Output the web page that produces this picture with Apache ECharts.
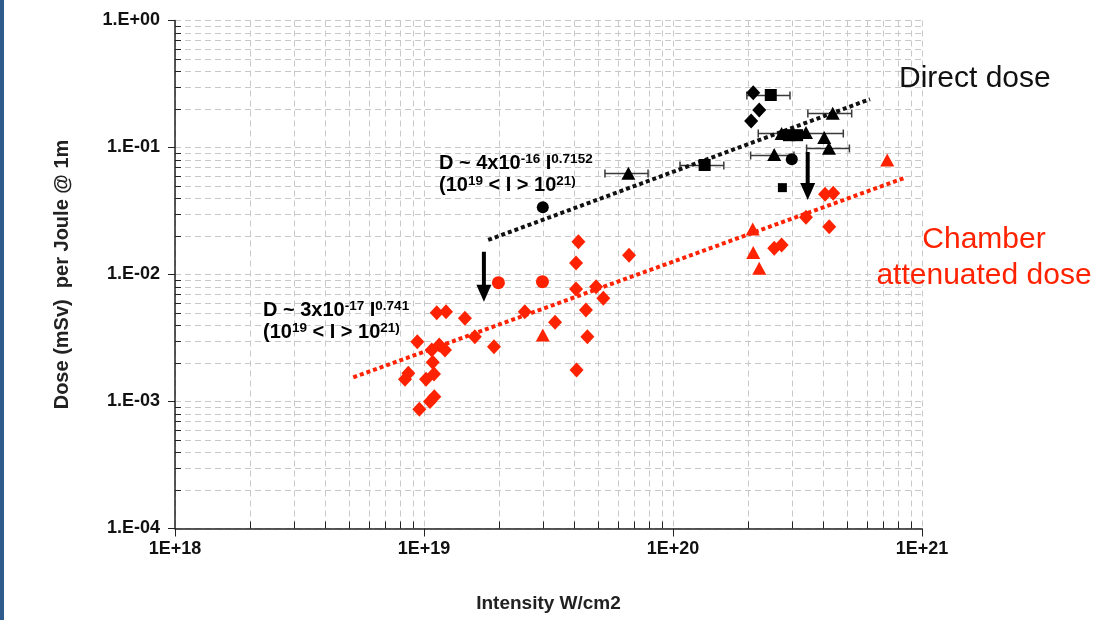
<!DOCTYPE html>
<html>
<head>
<meta charset="utf-8">
<title>Dose per Joule vs Intensity</title>
<script src="https://cdn.jsdelivr.net/npm/echarts@6/dist/echarts.min.js"></script>
<style>
    html, body { margin: 0; padding: 0; background: #fff; }
    #main { width: 1105px; height: 620px; }
</style>
</head>
<body>
<div id="main"></div>
<script>
// points: [intensity W/cm2, dose mSv per J]
var blackDiamond = [[2.10e20, 0.270], [2.22e20, 0.197], [2.06e20, 0.162]];
var blackSquare = [[2.47e20, 0.259], [1.34e20, 0.0728], [2.92e20, 0.125], [3.15e20, 0.125]];
var blackSquareSmall = [[2.75e20, 0.0483]];
var blackTriangle = [[6.62e19, 0.0626], [2.73e20, 0.129], [3.42e20, 0.131], [4.05e20, 0.120],
    [4.23e20, 0.0986], [2.55e20, 0.088], [4.38e20, 0.186]];
var blackCircle = [[3.0e19, 0.0338], [3.0e20, 0.0807]];
// horizontal error bars: [dose, intensity low, intensity high]
var errorBars = [[0.259, 1.98e20, 2.95e20], [0.0728, 1.067e20, 1.60e20], [0.186, 3.48e20, 5.22e20],
    [0.130, 2.20e20, 4.83e20], [0.0986, 3.44e20, 5.11e20], [0.088, 2.05e20, 3.06e20],
    [0.0626, 5.33e19, 7.94e19]];

var redDiamond = [[1.125e19, 0.00500], [1.226e19, 0.00510], [1.46e19, 0.00452], [9.40e18, 0.00296],
    [1.152e19, 0.00279], [1.214e19, 0.00254], [1.074e19, 0.00254], [1.084e19, 0.00204],
    [8.65e18, 0.00167], [8.39e18, 0.00150], [1.097e19, 0.00165], [1.019e19, 0.00150],
    [1.10e19, 0.00109], [1.057e19, 0.00100], [9.58e18, 0.00087], [1.91e19, 0.00270],
    [1.60e19, 0.00324], [2.54e19, 0.00510], [3.36e19, 0.00420], [4.17e19, 0.0181],
    [4.08e19, 0.0123], [6.66e19, 0.0142], [4.08e19, 0.00769], [4.91e19, 0.00802],
    [5.25e19, 0.00650], [4.47e19, 0.00525], [4.53e19, 0.00324], [4.10e19, 0.00177],
    [4.08e20, 0.0428], [4.40e20, 0.0436], [3.42e20, 0.0282], [4.24e20, 0.0238],
    [2.55e20, 0.0161], [2.73e20, 0.0171]];
var redCircle = [[1.99e19, 0.00862], [2.99e19, 0.00878]];
var redTriangle = [[3.0e19, 0.00334], [2.09e20, 0.0228], [2.10e20, 0.0149], [2.22e20, 0.0112], [7.25e20, 0.0797]];

// power law fits as drawn
var directFit = [[1.81e19, 0.0187], [6.18e20, 0.240]];
var chamberFit = [[5.2e18, 0.00155], [8.55e20, 0.0578]];
// downward arrows: [intensity, dose at top, dose at tip]
var arrows = [[1.74e19, 0.0151, 0.0061], [3.475e20, 0.0922, 0.0386]];

var xTickLabels = ['1E+18', '1E+19', '1E+20', '1E+21'];
var yTickLabels = ['1.E-04', '1.E-03', '1.E-02', '1.E-01', '1.E+00'];

var RED = '#ff2200';
var FONT = 'Liberation Sans, Arial, sans-serif';

// minor grid positions 2..9 per decade
var minorGrid = [];
for (var e = 18; e < 21; e++) {
    for (var m = 2; m < 10; m++) minorGrid.push([m * Math.pow(10, e), 1e-4, 0]);
}
for (var k = -4; k < 0; k++) {
    for (var m2 = 2; m2 < 10; m2++) minorGrid.push([1e18, m2 * Math.pow(10, k), 1]);
}

function renderMinor(params, api) {
    var cs = params.coordSys;
    var p = api.coord([api.value(0), api.value(1)]);
    var dash = {stroke: '#c8c8c8', lineDash: [6, 4], lineWidth: 1};
    var tick = {stroke: '#222', lineWidth: 1};
    if (api.value(2) === 0) {
        var x = Math.round(p[0]) + 0.5;
        var yb = cs.y + cs.height;
        return {type: 'group', children: [
            {type: 'line', shape: {x1: x, y1: cs.y, x2: x, y2: yb}, style: dash},
            {type: 'line', shape: {x1: x, y1: yb, x2: x, y2: yb - 7}, style: tick}
        ]};
    }
    var y = Math.round(p[1]) + 0.5;
    return {type: 'group', children: [
        {type: 'line', shape: {x1: cs.x, y1: y, x2: cs.x + cs.width, y2: y}, style: dash},
        {type: 'line', shape: {x1: cs.x, y1: y, x2: cs.x + 6, y2: y}, style: tick}
    ]};
}

function renderErr(params, api) {
    var y = api.value(1);
    var a = api.coord([api.value(0), y]);
    var b = api.coord([api.value(2), y]);
    var yy = Math.round(a[1]) + 0.5;
    var st = {stroke: '#3a3a3a', lineWidth: 1.5};
    return {type: 'group', children: [
        {type: 'line', shape: {x1: a[0], y1: yy, x2: b[0], y2: yy}, style: st},
        {type: 'line', shape: {x1: a[0], y1: yy - 4, x2: a[0], y2: yy + 4}, style: st},
        {type: 'line', shape: {x1: b[0], y1: yy - 4, x2: b[0], y2: yy + 4}, style: st}
    ]};
}

function renderArrow(params, api) {
    var top = api.coord([api.value(0), api.value(1)]);
    var tip = api.coord([api.value(0), api.value(2)]);
    var x = top[0], head = 17, half = 7.5;
    return {type: 'group', children: [
        {type: 'rect', shape: {x: x - 2, y: top[1], width: 4, height: tip[1] - head - top[1] + 1},
            style: {fill: '#000'}},
        {type: 'polygon', shape: {points: [[x - half, tip[1] - head], [x + half, tip[1] - head], [x, tip[1]]]},
            style: {fill: '#000'}}
    ]};
}

function scatter(name, data, symbol, size, color) {
    return {
        name: name, type: 'scatter', data: data, symbol: symbol, symbolSize: size,
        itemStyle: {color: color, opacity: 1}, z: 4, silent: true
    };
}

var supRich = function (color) {
    return {
        b: {fontSize: 20, fontWeight: 'bold', fontFamily: FONT, color: color, lineHeight: 22},
        s: {fontSize: 13.5, fontWeight: 'bold', fontFamily: FONT, color: color, lineHeight: 12, verticalAlign: 'top'}
    };
};

var chart = echarts.init(document.getElementById('main'));
var option = {
    animation: false,
    grid: {left: 175, right: 183, top: 20.5, bottom: 91.5},
    xAxis: {
        type: 'log', logBase: 10, min: 1e18, max: 1e21, splitNumber: 3,
        name: 'Intensity W/cm2', nameLocation: 'middle', nameGap: 66,
        nameTextStyle: {fontSize: 19, fontWeight: 'bold', fontFamily: FONT, color: '#222'},
        axisLine: {lineStyle: {color: '#222', width: 1.5}},
        axisTick: {length: 8, lineStyle: {color: '#222'}},
        axisLabel: {
            fontSize: 18, fontWeight: 'bold', fontFamily: FONT, color: '#111', margin: 12,
            formatter: function (v) { return xTickLabels[Math.round(Math.log10(v)) - 18]; }
        },
        splitLine: {show: true, lineStyle: {color: '#c8c8c8', type: [6, 4]}}
    },
    yAxis: {
        type: 'log', logBase: 10, min: 1e-4, max: 1, splitNumber: 4,
        name: 'Dose (mSv)  per Joule @ 1m', nameLocation: 'middle', nameGap: 103,
        nameTextStyle: {fontSize: 20, fontWeight: 'bold', fontFamily: FONT, color: '#222'},
        axisLine: {show: true, lineStyle: {color: '#222', width: 1.5}},
        axisTick: {show: true, length: 7, lineStyle: {color: '#222'}},
        axisLabel: {
            fontSize: 18, fontWeight: 'bold', fontFamily: FONT, color: '#111', margin: 15,
            formatter: function (v) { return yTickLabels[Math.round(Math.log10(v)) + 4]; }
        },
        splitLine: {show: true, lineStyle: {color: '#c8c8c8', type: [6, 4]}}
    },
    graphic: [
        {type: 'rect', left: 0, top: 0, shape: {width: 4, height: 620}, style: {fill: '#2f5b8c'}},
        {type: 'text', x: 439, y: 152, z: 10, style: {
            text: '{b|D ~ 4x10}{s|-16}{b| I}{s|0.7152}\n{b|(10}{s|19}{b| < I > 10}{s|21)}',
            rich: supRich('#111')}},
        {type: 'text', x: 263, y: 299, z: 10, style: {
            text: '{b|D ~ 3x10}{s|-17}{b| I}{s|0.741}\n{b|(10}{s|19}{b| < I > 10}{s|21)}',
            rich: supRich(RED)}},
        {type: 'text', x: 899, y: 64, z: 10, style: {
            text: 'Direct dose', font: '30px ' + FONT, fill: '#111'}},
        {type: 'text', x: 984, y: 222, z: 10, style: {
            text: 'Chamber\nattenuated dose', font: '30px ' + FONT, fill: RED,
            align: 'center', lineHeight: 36}}
    ],
    series: [
        {type: 'custom', name: 'minorGrid', data: minorGrid, renderItem: renderMinor, z: 0, silent: true, clip: false},
        {type: 'custom', name: 'errorBars', data: errorBars.map(function (r) { return [r[1], r[0], r[2]]; }),
            encode: {x: [0, 2], y: 1}, renderItem: renderErr, z: 2, silent: true},
        {type: 'line', name: 'directFit', data: directFit, symbol: 'none', z: 3, silent: true,
            lineStyle: {color: '#111', width: 4, type: [4, 3], cap: 'butt'}},
        {type: 'line', name: 'chamberFit', data: chamberFit, symbol: 'none', z: 3, silent: true,
            lineStyle: {color: RED, width: 4, type: [4, 3], cap: 'butt'}},
        scatter('blackDiamond', blackDiamond, 'diamond', [14, 15], '#000'),
        scatter('blackSquare', blackSquare, 'rect', 12, '#000'),
        scatter('blackSquareSmall', blackSquareSmall, 'rect', 9, '#000'),
        scatter('blackTriangle', blackTriangle, 'triangle', [14, 13], '#000'),
        scatter('blackCircle', blackCircle, 'circle', 12, '#000'),
        scatter('redDiamond', redDiamond, 'diamond', [14, 15], RED),
        scatter('redCircle', redCircle, 'circle', 13, RED),
        scatter('redTriangle', redTriangle, 'triangle', [14, 13], RED),
        {type: 'custom', name: 'arrows', data: arrows, encode: {x: 0, y: [1, 2]},
            renderItem: renderArrow, z: 5, silent: true}
    ]
};
chart.setOption(option);
</script>
</body>
</html>
